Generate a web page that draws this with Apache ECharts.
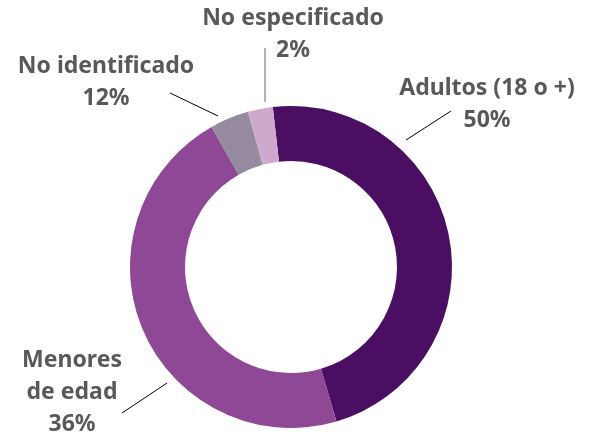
<!DOCTYPE html>
<html>
<head>
<meta charset="utf-8">
<script src="https://cdn.jsdelivr.net/npm/echarts@6/dist/echarts.min.js"></script>
<style>html,body{margin:0;padding:0;background:#fff}#c{width:595px;height:435px}</style>
</head>
<body>
<div id="c"></div>
<script>
const categories = ['Adultos (18 o +)', 'Menores\nde edad', 'No identificado', 'No especificado'];
const sliceValues = [47.2, 46.3, 3.9, 2.5];
const printedPercents = ['50%', '36%', '12%', '2%'];

// Styling / layout (not data)
const colors = ['#4a0e62', '#8e4896', '#968a9f', '#cea9ce'];
const labelPos = [[487, 104], [72, 392], [106, 82], [293, 34]];
const linePts = [
  [[406, 140], [451, 111]],
  [[167, 383], [122, 413]],
  [[218, 116], [170, 93]],
  [[265, 102], [265, 48]]
];
const lineColors = ['#000000', '#000000', '#000000', '#666666'];

const chart = echarts.init(document.getElementById('c'), null, {renderer: 'canvas'});
chart.setOption({
  animation: false,
  series: [{
    type: 'pie',
    center: [291, 267],
    radius: [106, 161],
    startAngle: 96.5,
    clockwise: true,
    avoidLabelOverlap: false,
    itemStyle: {borderWidth: 0},
    label: {
      show: true,
      position: 'outside',
      fontFamily: 'Noto Sans',
      fontWeight: 'bold',
      fontSize: 23,
      lineHeight: 32,
      color: '#595959',
      align: 'center',
      formatter: p => p.name + '\n' + printedPercents[p.dataIndex]
    },
    labelLine: {show: true, lineStyle: {width: 1}},
    labelLayout: p => ({
      x: labelPos[p.dataIndex][0],
      y: labelPos[p.dataIndex][1],
      align: 'center',
      verticalAlign: 'middle',
      labelLinePoints: linePts[p.dataIndex]
    }),
    data: categories.map((c, i) => ({
      name: c,
      value: sliceValues[i],
      itemStyle: {color: colors[i]},
      labelLine: {lineStyle: {color: lineColors[i], width: 1}}
    }))
  }]
});
</script>
</body>
</html>
